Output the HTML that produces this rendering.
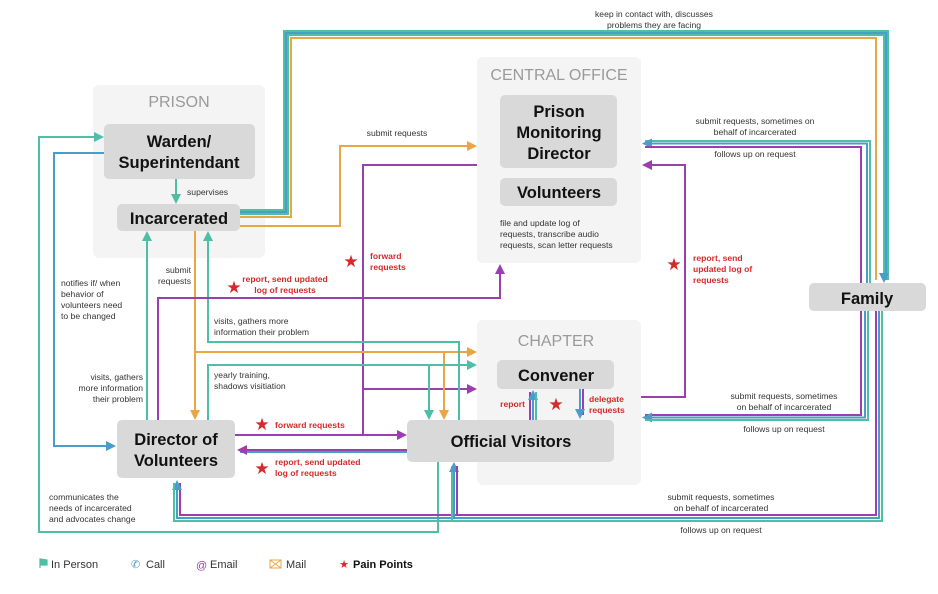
<!DOCTYPE html>
<html><head><meta charset="utf-8"><style>
body{margin:0;background:#fff;}
svg{display:block;font-family:"Liberation Sans",sans-serif;}
.s{font-size:8.6px;fill:#333;}
.r{font-size:8.6px;fill:#d42a2a;font-weight:bold;}
.g{font-size:16px;fill:#9a9a9a;}
.b{font-size:16.5px;font-weight:bold;fill:#111;}
</style></head><body>
<svg width="938" height="594" viewBox="0 0 938 594">
<defs>
<marker id="aT" markerWidth="10" markerHeight="10" refX="7" refY="5" orient="auto" markerUnits="userSpaceOnUse"><path d="M0,0L10,5L0,10z" fill="#4dbfa6"/></marker>
<marker id="aB" markerWidth="10" markerHeight="10" refX="7" refY="5" orient="auto" markerUnits="userSpaceOnUse"><path d="M0,0L10,5L0,10z" fill="#4a9cc9"/></marker>
<marker id="aP" markerWidth="10" markerHeight="10" refX="7" refY="5" orient="auto" markerUnits="userSpaceOnUse"><path d="M0,0L10,5L0,10z" fill="#9b3fb0"/></marker>
<marker id="aO" markerWidth="10" markerHeight="10" refX="7" refY="5" orient="auto" markerUnits="userSpaceOnUse"><path d="M0,0L10,5L0,10z" fill="#eaa544"/></marker>
</defs>
<rect x="93" y="85" width="172" height="173" rx="6" fill="#f4f4f4"/>
<rect x="477" y="57" width="164" height="206" rx="6" fill="#f4f4f4"/>
<rect x="477" y="320" width="164" height="165" rx="6" fill="#f4f4f4"/>
<text x="179" y="107" class="g" text-anchor="middle">PRISON</text>
<text x="559" y="80" class="g" text-anchor="middle">CENTRAL OFFICE</text>
<text x="556" y="346" class="g" text-anchor="middle">CHAPTER</text>

<g fill="none" stroke-width="2">
<polyline points="240,210 284,210 284,31 888,31 888,280" stroke="#4dbfa6"/>
<polyline points="240,212 286,212 286,33 886,33 886,280" stroke="#4a9cc9"/>
<polyline points="240,214 288,214 288,35 884,35 884,280" stroke="#4dbfa6" marker-end="url(#aB)"/>
<polyline points="240,217 291,217 291,38 876,38 876,280" stroke="#eaa544"/>
<polyline points="240,226 340,226 340,146 474,146" stroke="#eaa544" marker-end="url(#aO)"/>
<polyline points="477,165 363,165 363,435" stroke="#9b3fb0"/>
<polyline points="363,389 474,389" stroke="#9b3fb0" marker-end="url(#aP)"/>
<polyline points="195,231 195,417" stroke="#eaa544" marker-end="url(#aO)"/>
<polyline points="195,352 474,352" stroke="#eaa544" marker-end="url(#aO)"/>
<polyline points="444,352 444,417" stroke="#eaa544" marker-end="url(#aO)"/>
<polyline points="459,420 459,342 208,342 208,234" stroke="#4dbfa6" marker-end="url(#aT)"/>
<polyline points="208,420 208,365 474,365" stroke="#4dbfa6" marker-end="url(#aT)"/>
<polyline points="429,365 429,417" stroke="#4dbfa6" marker-end="url(#aT)"/>
<polyline points="147,420 147,234" stroke="#4dbfa6" marker-end="url(#aT)"/>
<polyline points="158,420 158,298 500,298 500,267" stroke="#9b3fb0" marker-end="url(#aP)"/>
<polyline points="438,462 438,532 39,532 39,137 101,137" stroke="#4dbfa6" marker-end="url(#aT)"/>
<polyline points="104,153 54,153 54,446 113,446" stroke="#4a9cc9" marker-end="url(#aB)"/>
<polyline points="235,435 404,435" stroke="#9b3fb0" marker-end="url(#aP)"/>
<polyline points="407,452 240,452" stroke="#4a9cc9"/>
<polyline points="407,450 240,450" stroke="#9b3fb0" marker-end="url(#aP)"/>
<polyline points="641,397 685,397 685,165 645,165" stroke="#9b3fb0" marker-end="url(#aP)"/>
<polyline points="870,283 870,141 645,141" stroke="#4dbfa6"/>
<polyline points="867,283 867,143.5 645,143.5" stroke="#4a9cc9" marker-end="url(#aB)"/>
<polyline points="861,283 861,147 645,147" stroke="#9b3fb0"/>
<polyline points="861,311 861,415 645,415" stroke="#9b3fb0"/>
<polyline points="865,311 865,417.5 645,417.5" stroke="#4a9cc9" marker-end="url(#aB)"/>
<polyline points="868,311 868,420 645,420" stroke="#4dbfa6"/>
<polyline points="876,311 876,515 180,515 180,483" stroke="#9b3fb0"/>
<polyline points="879,311 879,518 177,518 177,483" stroke="#4a9cc9" marker-end="url(#aB)"/>
<polyline points="882,311 882,521 174,521 174,483" stroke="#4dbfa6"/>
<polyline points="452,521 452,466" stroke="#4dbfa6"/>
<polyline points="454,518 454,465" stroke="#4a9cc9" marker-end="url(#aB)"/>
<polyline points="457,515 457,466" stroke="#9b3fb0"/>
<polyline points="530,420 530,392" stroke="#9b3fb0"/>
<polyline points="533,420 533,393" stroke="#4a9cc9" marker-end="url(#aB)"/>
<polyline points="536,420 536,392" stroke="#4dbfa6"/>
<polyline points="583,389 583,415" stroke="#9b3fb0"/>
<polyline points="580,389 580,416" stroke="#4a9cc9" marker-end="url(#aB)"/>
<polyline points="176,179 176,201" stroke="#4dbfa6" marker-end="url(#aT)"/>
</g>

<g><rect x="104" y="124" width="151" height="55" rx="5" fill="#d9d9d9"/>
<text x="179" y="147" class="b" text-anchor="middle">Warden/</text><text x="179" y="168" class="b" text-anchor="middle">Superintendant</text></g>
<g><rect x="117" y="204" width="123" height="27" rx="5" fill="#d9d9d9"/>
<text x="179" y="224" class="b" text-anchor="middle">Incarcerated</text></g>
<g><rect x="500" y="95" width="117" height="73" rx="5" fill="#d9d9d9"/>
<text x="559" y="117" class="b" text-anchor="middle">Prison</text><text x="559" y="138" class="b" text-anchor="middle">Monitoring</text><text x="559" y="159" class="b" text-anchor="middle">Director</text></g>
<g><rect x="500" y="178" width="117" height="28" rx="5" fill="#d9d9d9"/>
<text x="559" y="198" class="b" text-anchor="middle">Volunteers</text></g>
<g><rect x="497" y="360" width="117" height="29" rx="5" fill="#d9d9d9"/>
<text x="556" y="381" class="b" text-anchor="middle">Convener</text></g>
<g><rect x="407" y="420" width="207" height="42" rx="5" fill="#d9d9d9"/>
<text x="511" y="447" class="b" text-anchor="middle">Official Visitors</text></g>
<g><rect x="117" y="420" width="118" height="58" rx="5" fill="#d9d9d9"/>
<text x="176" y="445" class="b" text-anchor="middle">Director of</text><text x="176" y="466" class="b" text-anchor="middle">Volunteers</text></g>
<g><rect x="809" y="283" width="117" height="28" rx="5" fill="#d9d9d9"/>
<text x="867" y="304" class="b" text-anchor="middle">Family</text></g>

<g>
<text x="654" y="17" class="s" text-anchor="middle">keep in contact with, discusses</text>
<text x="654" y="28" class="s" text-anchor="middle">problems they are facing</text>
<text x="397" y="136" class="s" text-anchor="middle">submit requests</text>
<text x="187" y="195" class="s">supervises</text>
<text x="755" y="124" class="s" text-anchor="middle">submit requests, sometimes on</text>
<text x="755" y="135" class="s" text-anchor="middle">behalf of incarcerated</text>
<text x="755" y="157" class="s" text-anchor="middle">follows up on request</text>
<text x="500" y="226" class="s">file and update log of</text>
<text x="500" y="237" class="s">requests, transcribe audio</text>
<text x="500" y="248" class="s">requests, scan letter requests</text>
<text x="191" y="273" class="s" text-anchor="end">submit</text>
<text x="191" y="284" class="s" text-anchor="end">requests</text>
<text x="61" y="286" class="s">notifies if/ when</text>
<text x="61" y="297" class="s">behavior of</text>
<text x="61" y="308" class="s">volunteers need</text>
<text x="61" y="319" class="s">to be changed</text>
<text x="214" y="324" class="s">visits, gathers more</text>
<text x="214" y="335" class="s">information their problem</text>
<text x="214" y="378" class="s">yearly training,</text>
<text x="214" y="389" class="s">shadows visitiation</text>
<text x="143" y="380" class="s" text-anchor="end">visits, gathers</text>
<text x="143" y="391" class="s" text-anchor="end">more information</text>
<text x="143" y="402" class="s" text-anchor="end">their problem</text>
<text x="49" y="500" class="s">communicates the</text>
<text x="49" y="511" class="s">needs of incarcerated</text>
<text x="49" y="522" class="s">and advocates change</text>
<text x="784" y="399" class="s" text-anchor="middle">submit requests, sometimes</text>
<text x="784" y="410" class="s" text-anchor="middle">on behalf of incarcerated</text>
<text x="784" y="432" class="s" text-anchor="middle">follows up on request</text>
<text x="721" y="500" class="s" text-anchor="middle">submit requests, sometimes</text>
<text x="721" y="511" class="s" text-anchor="middle">on behalf of incarcerated</text>
<text x="721" y="533" class="s" text-anchor="middle">follows up on request</text>
<text x="370" y="259" class="r">forward</text>
<text x="370" y="270" class="r">requests</text>
<text x="285" y="282" class="r" text-anchor="middle">report, send updated</text>
<text x="285" y="293" class="r" text-anchor="middle">log of requests</text>
<text x="693" y="261" class="r">report, send</text>
<text x="693" y="272" class="r">updated log of</text>
<text x="693" y="283" class="r">requests</text>
<text x="275" y="428" class="r">forward requests</text>
<text x="275" y="465" class="r">report, send updated</text>
<text x="275" y="476" class="r">log of requests</text>
<text x="525" y="407" class="r" text-anchor="end">report</text>
<text x="589" y="402" class="r">delegate</text>
<text x="589" y="413" class="r">requests</text>
</g>
<g fill="#d42a2a" font-size="17" text-anchor="middle">
<text x="351" y="267">★</text><text x="234" y="293">★</text><text x="674" y="270">★</text>
<text x="262" y="430">★</text><text x="262" y="474">★</text><text x="556" y="410">★</text>
</g>
<g font-size="11">
<path d="M40,559 L40,568 M40,559 L47,560 L47,565 L40,565z" fill="#4dbfa6" stroke="#4dbfa6" stroke-width="1.2"/>
<text x="51" y="568" fill="#333">In Person</text>
<text x="131" y="568" fill="#4a9cc9">✆</text><text x="146" y="568" fill="#333">Call</text>
<text x="196" y="569" fill="#9b3fb0">@</text><text x="210" y="568" fill="#333">Email</text>
<rect x="270" y="560" width="11" height="8" fill="none" stroke="#eaa544"/><path d="M270,560L281,568M281,560L270,568" stroke="#eaa544" stroke-width="0.8"/>
<text x="286" y="568" fill="#333">Mail</text>
<text x="344" y="568" fill="#d42a2a" text-anchor="middle">★</text>
<text x="353" y="568" fill="#111" font-weight="bold">Pain Points</text>
</g>
</svg>
</body></html>
